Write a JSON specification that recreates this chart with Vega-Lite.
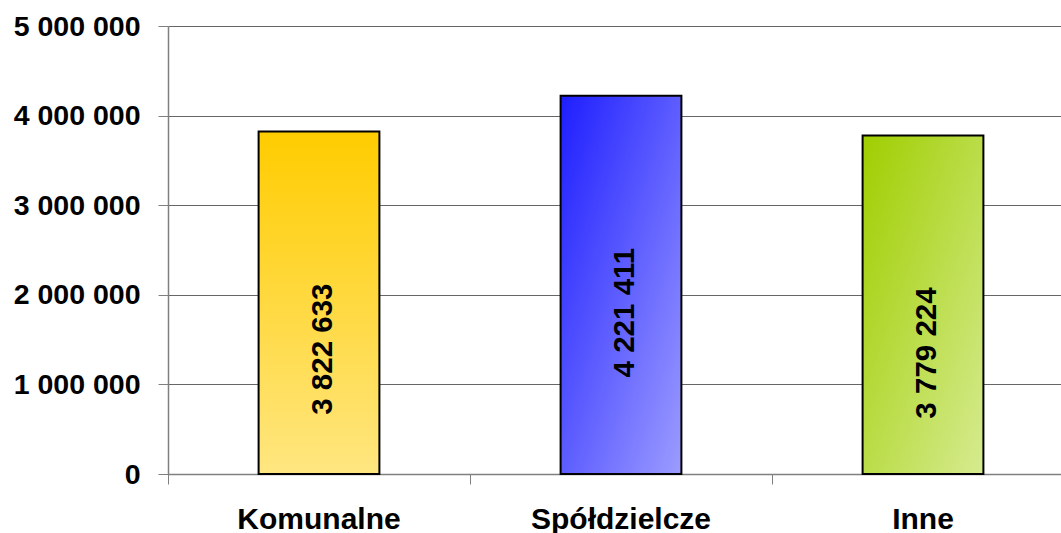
{
  "$schema": "https://vega.github.io/schema/vega-lite/v6.json",
  "width": 893,
  "height": 448,
  "autosize": {"type": "none"},
  "padding": {"left": 168, "right": 0, "top": 26, "bottom": 59},
  "background": "white",
  "config": {
    "view": {"stroke": null},
    "font": "Liberation Sans",
    "locale": {"number": {"decimal": ",", "thousands": " ", "grouping": [3], "currency": ["", " zł"]}}
  },
  "data": {
    "values": [
      {"kategoria": "Komunalne", "wartosc": 3822633},
      {"kategoria": "Spółdzielcze", "wartosc": 4221411},
      {"kategoria": "Inne", "wartosc": 3779224}
    ]
  },
  "encoding": {
    "x": {
      "field": "kategoria",
      "type": "nominal",
      "sort": null,
      "scale": {"range": [0, 906], "paddingInner": 0.6, "paddingOuter": 0.3},
      "axis": {
        "title": null,
        "labelAngle": 0,
        "labelFont": "Liberation Sans",
        "labelFontSize": 30,
        "labelFontWeight": "bold",
        "labelColor": "black",
        "labelBaseline": "alphabetic",
        "labelPadding": 44,
        "labelLimit": 500,
        "bandPosition": -0.75,
        "tickSize": 10,
        "tickColor": "#808080",
        "domainColor": "#808080",
        "domainWidth": 1.5,
        "grid": false
      }
    },
    "y": {
      "field": "wartosc",
      "type": "quantitative",
      "scale": {"domain": [0, 5000000], "nice": false},
      "axis": {
        "title": null,
        "values": [0, 1000000, 2000000, 3000000, 4000000, 5000000],
        "labelExpr": "format(datum.value, ',')",
        "labelFont": "Liberation Sans",
        "labelFontSize": 28.5,
        "labelFontWeight": "bold",
        "labelColor": "black",
        "labelPadding": 18,
        "labelLimit": 500,
        "tickSize": 10,
        "tickColor": "#808080",
        "domainColor": "#808080",
        "domainWidth": 1.5,
        "grid": true,
        "gridColor": "#666666",
        "gridWidth": 1
      }
    }
  },
  "layer": [
    {
      "mark": {"type": "bar", "stroke": "black", "strokeWidth": 2},
      "encoding": {
        "color": {
          "condition": [
            {"test": "datum.kategoria === 'Komunalne'", "value": {"gradient": "linear", "x1": 0, "y1": 0, "x2": 0, "y2": 1, "stops": [{"offset": 0, "color": "#FFCC00"}, {"offset": 1, "color": "#FFE680"}]}},
            {"test": "datum.kategoria === 'Spółdzielcze'", "value": {"gradient": "linear", "x1": 0, "y1": 0, "x2": 1, "y2": 1, "stops": [{"offset": 0, "color": "#1E1EFF"}, {"offset": 1, "color": "#9C9CFF"}]}}
          ],
          "value": {"gradient": "linear", "x1": 0, "y1": 0, "x2": 1, "y2": 1, "stops": [{"offset": 0, "color": "#9FCE00"}, {"offset": 1, "color": "#D6EB90"}]}
        }
      }
    },
    {
      "mark": {"type": "text", "angle": 270, "align": "right", "baseline": "alphabetic", "dx": -152, "dy": 13, "font": "Liberation Sans", "fontSize": 29.5, "fontWeight": "bold", "color": "black"},
      "encoding": {
        "text": {"field": "wartosc", "type": "quantitative", "format": ","}
      }
    }
  ]
}
